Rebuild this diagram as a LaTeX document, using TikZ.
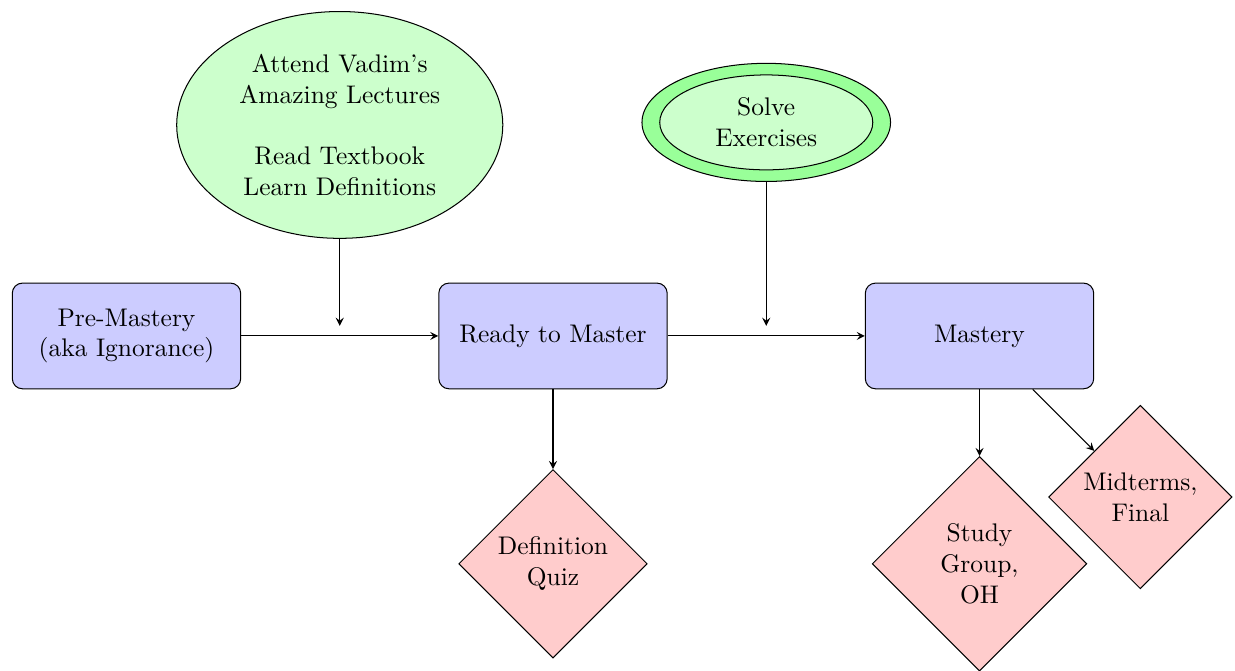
\documentclass[tikz,border=0pt]{standalone}
\usepackage{tikz}
\usetikzlibrary{shapes,arrows,positioning}
\usetikzlibrary{calc}

\begin{document}
\begin{tikzpicture}
  [
    >=stealth,
    node distance=2.72cm,
    Block/.style={rectangle, draw=black, fill=blue!20, rounded corners, text width=8.3em, align=center, minimum height=4.15em},
    Cloud/.style={ellipse, draw=black, fill=green!20, align=center},
    Test/.style={diamond, draw=black, fill=red!20, text width=4.5em, align=center, inner sep=2pt}
  ]
  \useasboundingbox (-7.631, -4.623) rectangle (9.411, 4.636);
  % Nodes
  \node[Block] (ready) at(0, 0) {Ready to Master};
  \node[Block, left=of ready] (pre) {Pre-Mastery\\(aka Ignorance)};
  \node[Block, right=of ready] (mastery) {Mastery};
  \coordinate (m1) at ($(pre.east)!0.5!(ready.west)$);
  \coordinate (m2) at ($(ready.east)!0.5!(mastery.west)$);
  \node[Cloud, minimum width=4.5cm, minimum height=3.13cm, above=1.34cm of m1] (lectures)
    {Attend Vadim's\\Amazing Lectures\\[\baselineskip]Read Textbook\\Learn Definitions};
  \node[Cloud, fill=green!40, minimum width=3.43cm, minimum height=1.63cm, above=2.125cm of m2] (solveouter) {};
  \node[Cloud, minimum width=2.94cm, minimum height=1.31cm] (solve) at(solveouter) {Solve\\Exercises};
  \node[Test, below=1.1cm of ready] (quiz) {Definition Quiz};
  \node[Test, below=0.92cm of mastery] (study) {Study Group, OH};
  \node[Test, below right=0.85cm and 0cm of mastery] (exams) {Midterms, Final};
  % Lines
  \path [->, draw] (pre) -- (ready);
  \path [->, draw] (ready) -- (mastery);
  \path [->, draw, shorten >=4pt] (lectures) -- (m1);
  \path [->, draw, shorten >=4pt] (solveouter) -- (m2);
  \path [->, draw] (ready) -- (quiz);
  \path [->, draw] (mastery) -- (study);
  \path [->, draw] (mastery) -- (exams);
\end{tikzpicture}
\end{document}
